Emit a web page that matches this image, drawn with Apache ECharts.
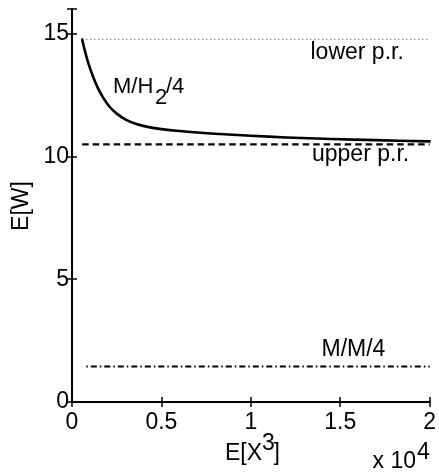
<!DOCTYPE html>
<html>
<head>
<meta charset="utf-8">
<script src="https://cdn.jsdelivr.net/npm/echarts@6/dist/echarts.min.js"></script>
<style>
  html, body { margin: 0; padding: 0; background: #fff; }
  #chart { width: 439px; height: 474px; }
</style>
</head>
<body>
<div id="chart"></div>
<script>
// Mean waiting time E[W] of M/H2/4 against the third moment E[X^3]
const curveX = [570, 700, 850, 1000, 1200, 1450, 1750, 2100, 2500, 3000, 3600,
                4300, 5000, 6000, 7000, 8500, 10000, 12000, 14500, 17000, 20000];
const curveY = [14.76, 14.36, 13.95, 13.6, 13.2, 12.78, 12.38, 12.02, 11.74, 11.5, 11.32,
                11.19, 11.11, 11.03, 10.97, 10.9, 10.84, 10.77, 10.71, 10.66, 10.61];

// Reference levels: lower / upper p.r. bounds and the M/M/4 value
const lowerPR = 14.76;
const upperPR = 10.49;
const mm4 = 1.45;
const boundX = [570, 20000];
const mm4X = [800, 20000];

const xTicks = [0, 5000, 10000, 15000, 20000];
const yTicks = [0, 5, 10, 15];

const FONT = 'Liberation Sans';
const FS = 23;

const chart = echarts.init(document.getElementById('chart'), null, { renderer: 'canvas' });

const curveData = curveX.map((x, i) => [x, curveY[i]]);
const flat = (xs, v) => xs.map(x => [x, v]);

const axisLineStyle = { color: '#000', width: 2 };
const tickStyle = { color: '#000', width: 1.5 };

function txt(text, x, y, size) {
  return {
    type: 'text', x: x, y: y, silent: true,
    style: { text: text, fill: '#000', font: (size || FS) + 'px "' + FONT + '"',
             align: 'left', verticalAlign: 'middle' }
  };
}

chart.setOption({
  animation: false,
  backgroundColor: '#fff',
  grid: { left: 72, top: 9, width: 358, height: 393, containLabel: false },
  xAxis: [
    {
      type: 'value', position: 'bottom', min: xTicks[0], max: xTicks[xTicks.length - 1],
      interval: xTicks[1] - xTicks[0],
      axisLine: { show: true, lineStyle: axisLineStyle },
      axisTick: { show: true, inside: true, length: 5, lineStyle: tickStyle },
      splitLine: { show: false },
      axisLabel: {
        margin: 9.5, color: '#000', fontFamily: FONT, fontSize: FS,
        formatter: v => String(v / 10000)
      }
    },
    {
      type: 'value', position: 'top', min: xTicks[0], max: xTicks[xTicks.length - 1],
      interval: xTicks[1] - xTicks[0],
      axisLine: { show: true, lineStyle: axisLineStyle },
      axisTick: { show: true, inside: true, length: 5, lineStyle: tickStyle },
      splitLine: { show: false },
      axisLabel: { show: false }
    }
  ],
  yAxis: [
    {
      type: 'value', position: 'left', min: 0, max: 16, interval: 5,
      axisLine: { show: true, lineStyle: axisLineStyle },
      axisTick: { show: true, inside: true, length: 5, lineStyle: tickStyle },
      splitLine: { show: false },
      axisLabel: {
        margin: 3, color: '#000', fontFamily: FONT, fontSize: FS, padding: [4, 0, 0, 0],
        formatter: v => (yTicks.indexOf(v) >= 0 ? String(v) : '')
      }
    },
    {
      type: 'value', position: 'right', min: 0, max: 16, interval: 5,
      axisLine: { show: true, lineStyle: axisLineStyle },
      axisTick: { show: true, inside: true, length: 5, lineStyle: tickStyle },
      splitLine: { show: false },
      axisLabel: { show: false }
    }
  ],
  series: [
    {
      name: 'lower p.r.', type: 'line', data: flat(boundX, lowerPR),
      showSymbol: false, symbol: 'none',
      lineStyle: { color: '#777', width: 1.2, type: [1.2, 2.8] }
    },
    {
      name: 'upper p.r.', type: 'line', data: flat(boundX, upperPR),
      showSymbol: false, symbol: 'none',
      lineStyle: { color: '#000', width: 2.4, type: [6.5, 4] }
    },
    {
      name: 'M/M/4', type: 'line', data: flat(mm4X, mm4),
      showSymbol: false, symbol: 'none',
      lineStyle: { color: '#000', width: 2, type: [6, 3, 1.5, 3], dashOffset: 9 }
    },
    {
      name: 'M/H2/4', type: 'line', data: curveData,
      showSymbol: false, symbol: 'none', smooth: 0.3,
      lineStyle: { color: '#000', width: 2.6, join: 'round', cap: 'round' }
    }
  ],
  graphic: [
    txt('lower p.r.', 310.5, 52.5),
    txt('upper p.r.', 312, 155),
    txt('M/M/4', 321.5, 349.5),
    txt('M/H', 113, 86.5, 22),
    txt('2', 155, 97.5, 22),
    txt('/4', 166, 86.5, 22),
    txt('E[X', 225, 454),
    txt('3', 262, 444),
    txt(']', 273.5, 454),
    txt('x 10', 372.5, 461.5),
    txt('4', 417, 452.5),
    {
      type: 'text', x: 22, y: 206, rotation: Math.PI / 2, silent: true,
      style: { text: 'E[W]', fill: '#000', font: FS + 'px "' + FONT + '"',
               align: 'center', verticalAlign: 'middle' }
    }
  ]
});
</script>
</body>
</html>
